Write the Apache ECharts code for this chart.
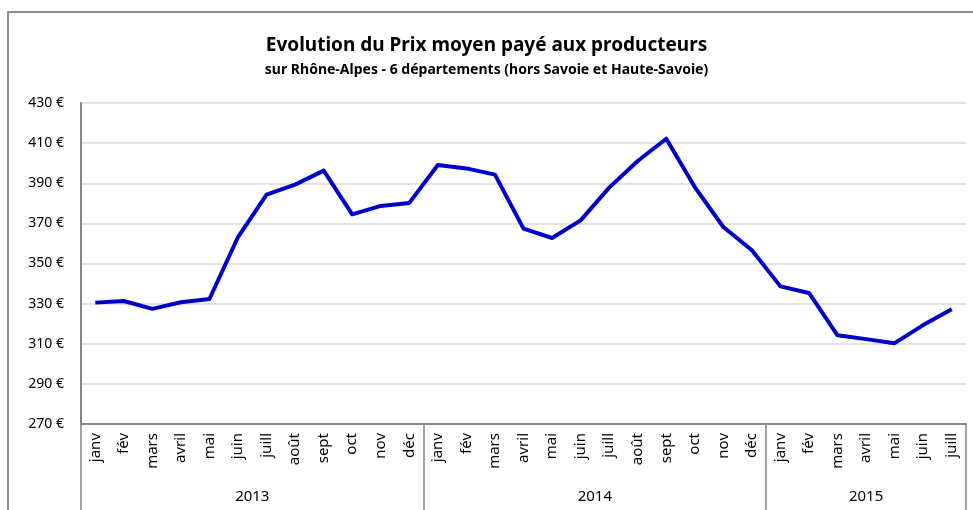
<!DOCTYPE html>
<html>
<head>
<meta charset="utf-8">
<script src="https://cdn.jsdelivr.net/npm/echarts@6/dist/echarts.min.js"></script>
<style>
  html, body { margin: 0; padding: 0; background: #fff; }
  #chart { width: 973px; height: 510px; }
</style>
</head>
<body>
<div id="chart"></div>
<script>
// mois affichés sur l'axe
const months = ['janv','fév','mars','avril','mai','juin','juill','août','sept','oct','nov','déc',
  'janv','fév','mars','avril','mai','juin','juill','août','sept','oct','nov','déc',
  'janv','fév','mars','avril','mai','juin','juill']
// années et nombre de mois par année
const years = ['2013', '2014', '2015']
const monthsPerYear = [12, 12, 7]
// prix moyen (€)
const prices = [330.5, 331.3, 327.4, 330.7, 332.3, 363.2, 384.3, 389.3, 396.3, 374.5, 378.7, 380.2,
  399.1, 397.4, 394.3, 367.4, 362.7, 371.5, 387.8, 401.1, 412.2, 388.1, 368.2, 356.6,
  338.6, 335.3, 314.2, 312.3, 310.3, 319.3, 327.2]

const font = '"Noto Sans", sans-serif'

// limites et milieux des années sur l'axe secondaire
const bounds = [0]
const centers = []
monthsPerYear.forEach(n => {
  const start = bounds[bounds.length - 1]
  centers.push(start + n / 2)
  bounds.push(start + n)
})

const chart = echarts.init(document.getElementById('chart'))

const option = {
  animation: false,
  backgroundColor: '#fff',
  title: {
    text: 'Evolution du Prix moyen payé aux producteurs',
    subtext: 'sur Rhône-Alpes - 6 départements (hors Savoie et Haute-Savoie)',
    left: 'center',
    top: 31,
    itemGap: 8,
    textStyle: { fontFamily: font, fontSize: 19, fontWeight: 'bold', color: '#000' },
    subtextStyle: { fontFamily: font, fontSize: 14, fontWeight: 'bold', color: '#000' }
  },
  graphic: [{
    type: 'rect',
    shape: { x: 8, y: 12, width: 975, height: 510 },
    style: { fill: 'none', stroke: '#8c8c8c', lineWidth: 2 },
    silent: true
  }],
  grid: { left: 81, right: 7, top: 103, bottom: 86 },
  xAxis: [
    {
      type: 'category',
      data: months,
      boundaryGap: true,
      axisLine: { lineStyle: { color: '#868686', width: 2 } },
      axisTick: { show: false },
      axisLabel: {
        rotate: 90,
        margin: 9,
        interval: 0,
        fontFamily: font,
        fontSize: 15,
        color: '#000'
      },
      splitLine: { show: false }
    },
    {
      type: 'value',
      position: 'bottom',
      min: 0,
      max: bounds[bounds.length - 1],
      axisLine: { show: false },
      axisTick: {
        show: true,
        customValues: bounds,
        length: 90,
        lineStyle: { color: '#868686', width: 1.5 }
      },
      axisLabel: {
        customValues: centers,
        margin: 65,
        fontFamily: font,
        fontSize: 15,
        color: '#000',
        formatter: v => {
          const i = centers.indexOf(v)
          return i >= 0 ? years[i] : ''
        }
      },
      splitLine: { show: false }
    }
  ],
  yAxis: {
    type: 'value',
    min: 270,
    max: 430,
    interval: 20,
    axisLine: { show: true, lineStyle: { color: '#868686', width: 2 } },
    axisTick: { show: false },
    axisLabel: {
      margin: 17,
      fontFamily: font,
      fontSize: 14,
      color: '#000',
      formatter: '{value} €'
    },
    splitLine: { lineStyle: { color: '#d9d9d9', width: 1.5 } }
  },
  series: [{
    type: 'line',
    data: prices,
    xAxisIndex: 0,
    symbol: 'none',
    lineStyle: { color: '#0000cc', width: 4, join: 'round' },
    itemStyle: { color: '#0000cc' }
  }]
}

chart.setOption(option)
</script>
</body>
</html>
